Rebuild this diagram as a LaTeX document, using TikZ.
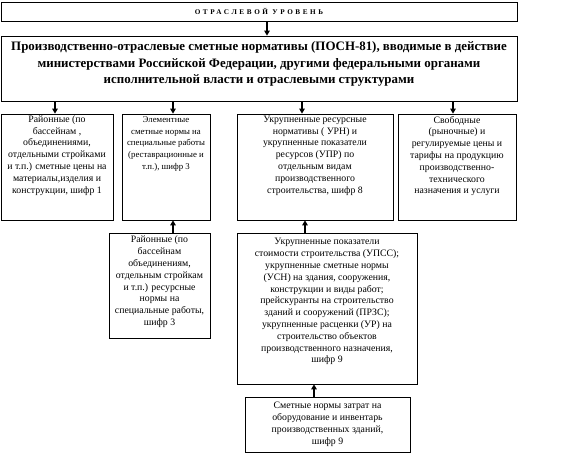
\documentclass[tikz,border=0pt]{standalone}
\usepackage{fontspec}
\setmainfont{Liberation Serif}
\usetikzlibrary{arrows.meta}
\newcommand{\bxtext}[4]{\makebox[#1][c]{\parbox[c][#2][t]{\dimexpr#1+10pt\relax}{\centering\vspace*{#3}\strut#4\par}}}
\tikzset{
  box/.style={draw=black, line width=0.8pt, inner sep=0pt, fill=white},
  arr/.style={line width=1.8pt, -{Triangle[length=5pt,width=5.5pt]}},
  small/.style={font=\fontsize{9.8}{11.8}\selectfont},
  smaller/.style={font=\fontsize{8.8}{11.8}\selectfont},
}
\begin{document}
\begin{tikzpicture}[x=1pt,y=-1pt]
\useasboundingbox (0,0) rectangle (576,462);
% top
\node[box, minimum width=516pt, minimum height=19pt] (top) at (259,11.5)
  {\fontsize{7.2}{8}\selectfont\bfseries\addfontfeatures{LetterSpace=36}ОТРАСЛЕВОЙ УРОВЕНЬ};
% main
\node[box] (main) at (259,68.5)
  {\bxtext{516pt}{65pt}{6pt}{\fontsize{12.9}{16.5}\selectfont\bfseries
  Производственно-отраслевые сметные нормативы (ПОСН-81), вводимые в действие\\
  министерствами Российской Федерации, другими федеральными органами\\
  исполнительной власти и отраслевыми структурами}};
% row 1
\node[box, small] (b1) at (57,167) {\bxtext{112pt}{106pt}{0pt}{Районные (по\\ бассейнам ,\\ объединениями,\\ отдельными стройками\\ и т.п.) сметные цены на\\ материалы,изделия и\\ конструкции, шифр 1}};
\node[box, smaller] (b2) at (166,167) {\bxtext{88pt}{106pt}{0pt}{Элементные\\ сметные нормы на\\ специальные работы\\ (реставрационные и\\ т.п.), шифр 3}};
\node[box, small] (b3) at (315,167) {\bxtext{156pt}{106pt}{0pt}{Укрупненные ресурсные\\ нормативы ( УРН) и\\ укрупненные показатели\\ ресурсов (УПР) по\\ отдельным видам\\ производственного\\ строительства, шифр 8}};
\node[box, small] (b4) at (457,167) {\bxtext{118pt}{106pt}{0.8pt}{Свободные\\ (рыночные) и\\ регулируемые цены и\\ тарифы на продукцию\\ производственно-\\ технического\\ назначения и услуги}};
% row 2
\node[box, small] (b5) at (159.5,285.5) {\bxtext{101pt}{105pt}{1.6pt}{Районные (по\\ бассейнам\\ объединениям,\\ отдельным стройкам\\ и т.п.) ресурсные\\ нормы на\\ специальные работы,\\ шифр 3}};
\node[box, small] (b6) at (327,308.5) {\bxtext{180pt}{151pt}{3.6pt}{Укрупненные показатели\\ стоимости строительства (УПСС);\\ укрупненные сметные нормы\\ (УСН) на здания, сооружения,\\ конструкции и виды работ;\\ прейскуранты на строительство\\ зданий и сооружений (ПРЗС);\\ укрупненные расценки (УР) на\\ строительство объектов\\ производственного назначения,\\ шифр 9}};
\node[box, small] (b7) at (327.5,424.5) {\bxtext{165pt}{55pt}{3.6pt}{Сметные нормы затрат на\\ оборудование и инвентарь\\ производственных зданий,\\ шифр 9}};
% arrows
\coordinate (t0) at ([xshift=8pt]main.north);
\draw[arr] (t0 |- top.south) -- (t0);
\coordinate (a1) at ([xshift=-2pt]b1.north);
\coordinate (a2) at ([xshift=7pt]b2.north);
\coordinate (a3) at ([xshift=-13pt]b3.north);
\coordinate (a4) at ([xshift=-4pt]b4.north);
\draw[arr] (a1 |- main.south) -- (a1);
\draw[arr] (a2 |- main.south) -- (a2);
\draw[arr] (a3 |- main.south) -- (a3);
\draw[arr] (a4 |- main.south) -- (a4);
\coordinate (u5) at ([xshift=13.5pt]b5.north);
\coordinate (u6) at ([xshift=-22pt]b6.north);
\coordinate (u7) at ([xshift=-13.5pt]b7.north);
\draw[arr] (u5) -- (u5 |- b2.south);
\draw[arr] (u6) -- (u6 |- b3.south);
\draw[arr] (u7) -- (u7 |- b6.south);
\end{tikzpicture}
\end{document}
